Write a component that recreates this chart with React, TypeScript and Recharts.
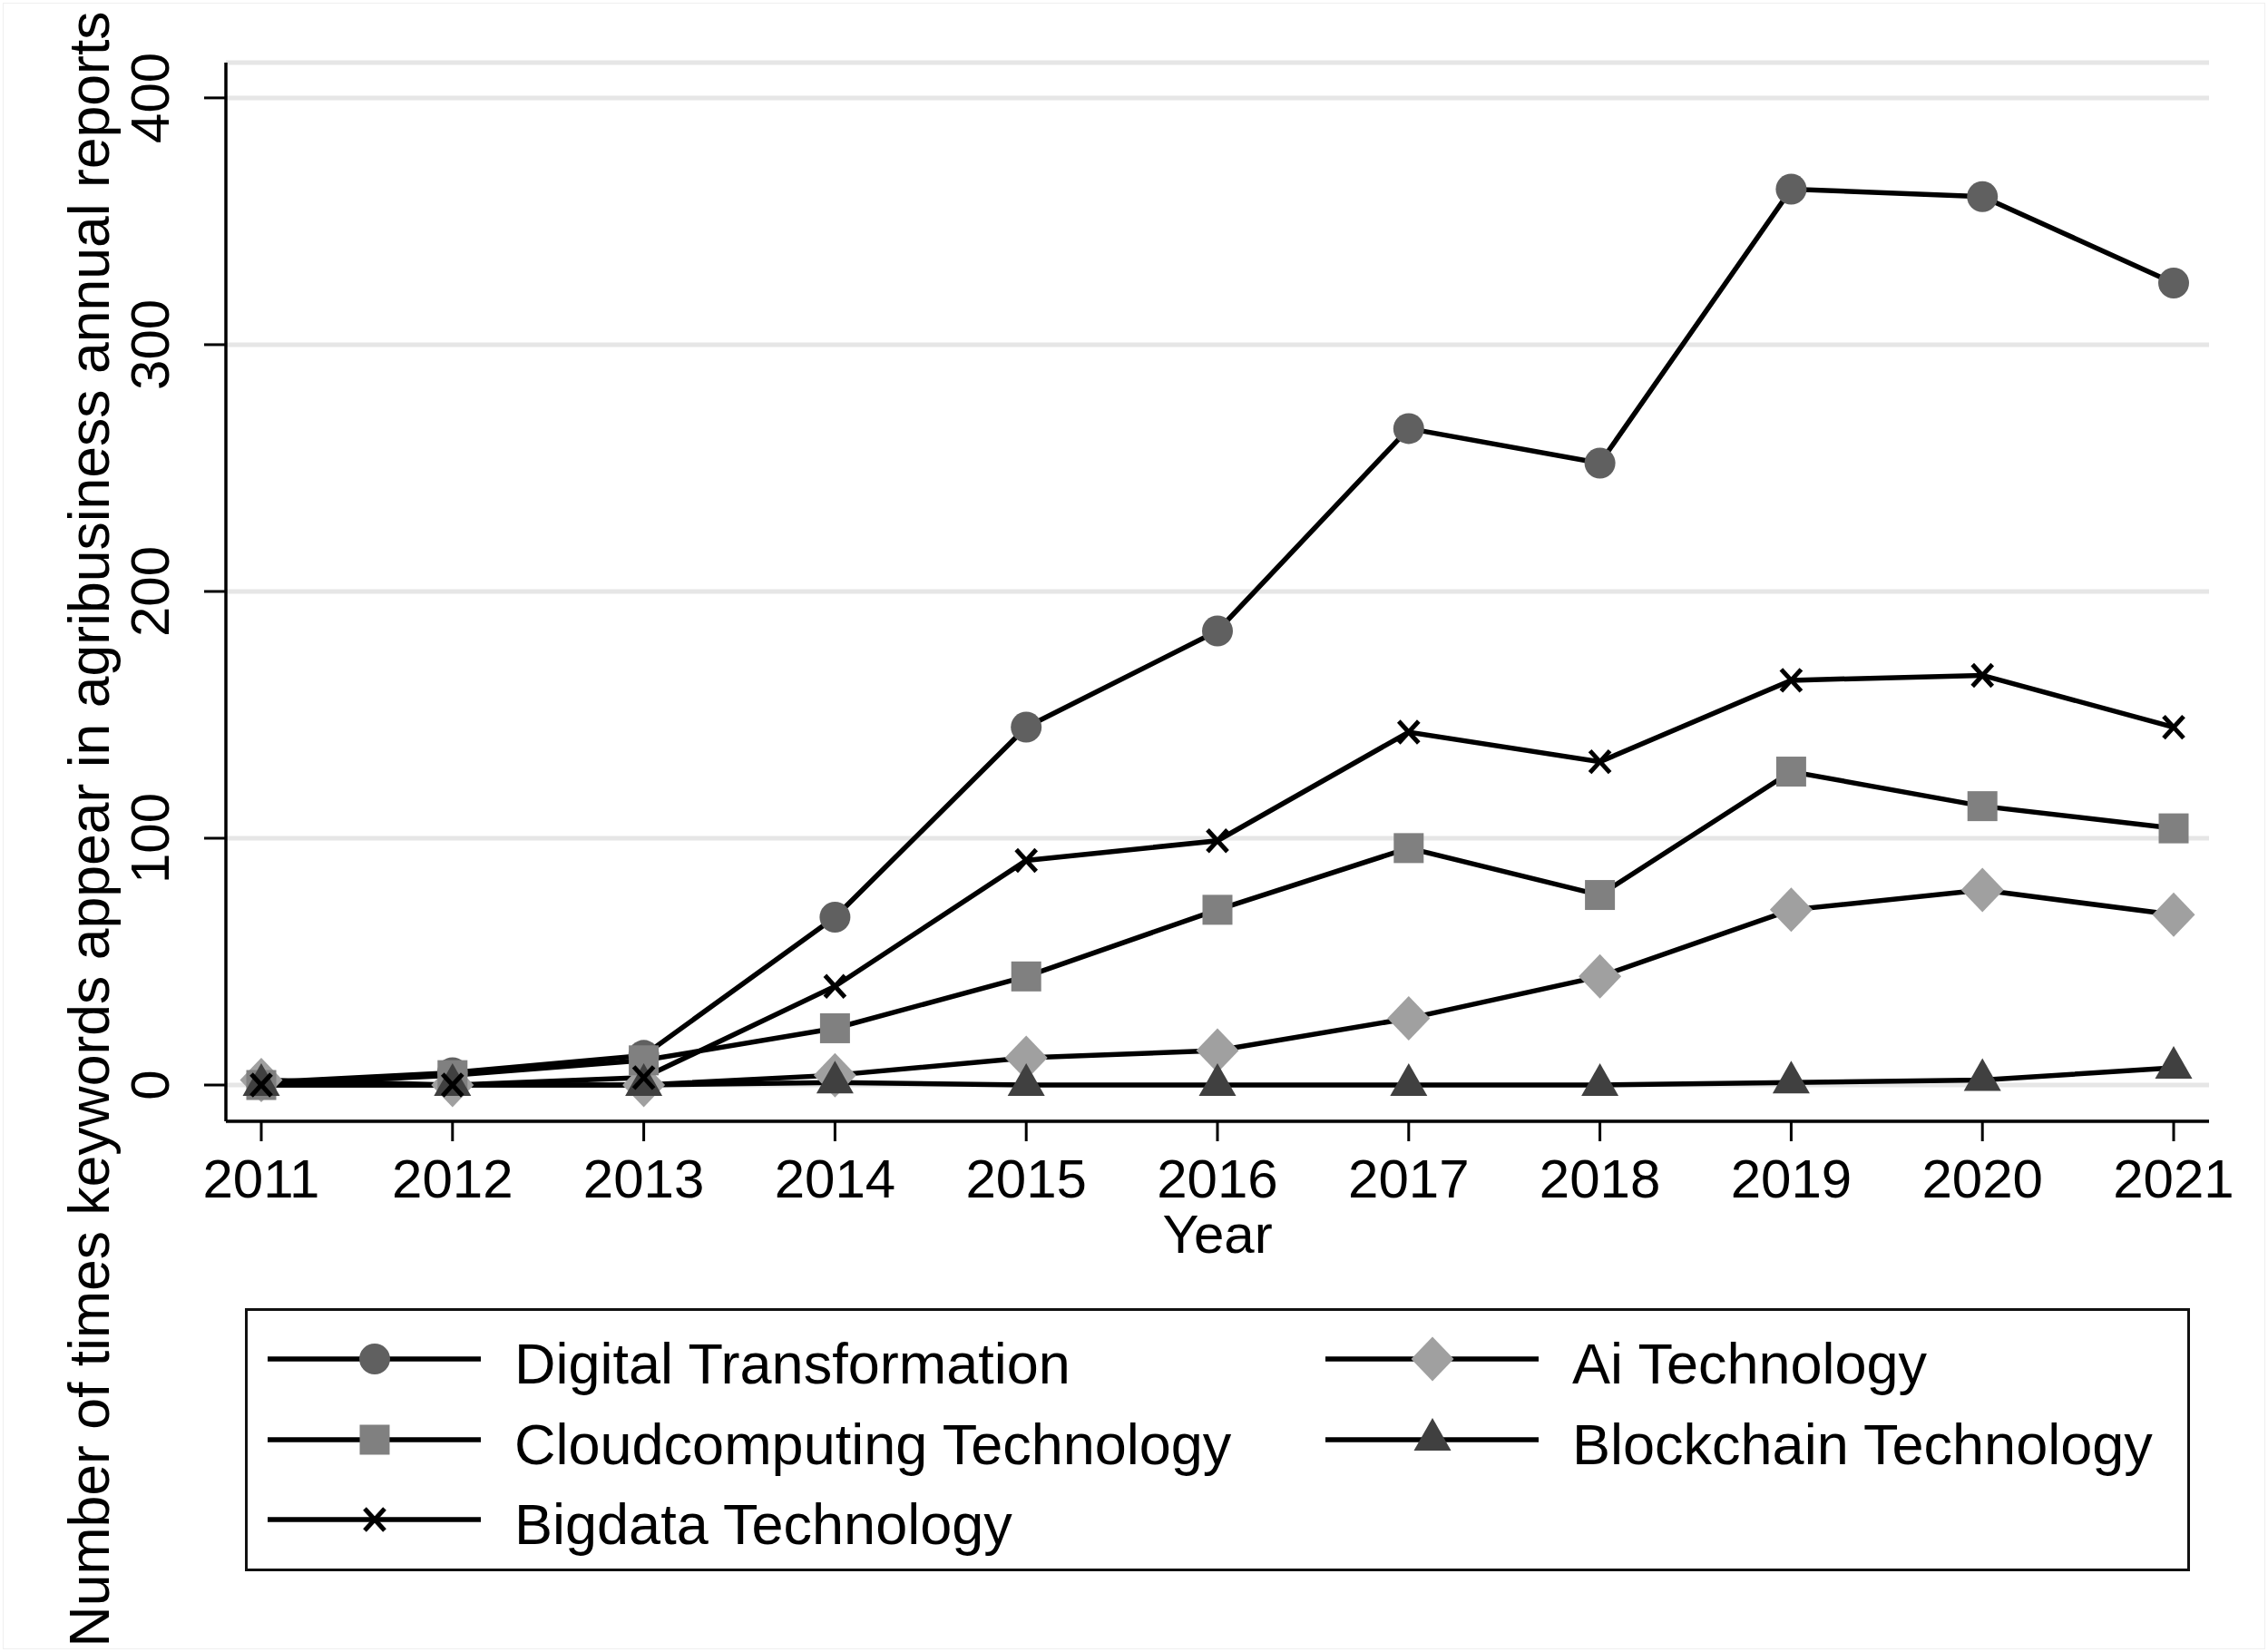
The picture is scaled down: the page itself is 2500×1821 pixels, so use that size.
import React from "react";
import {
  LineChart,
  Line,
  XAxis,
  YAxis,
  CartesianGrid,
  Legend,
  Label,
} from "recharts";

const YEARS = [2011, 2012, 2013, 2014, 2015, 2016, 2017, 2018, 2019, 2020, 2021];
const DIGITAL = [1, 5, 12, 68, 145, 184, 266, 252, 363, 360, 325];
const AI_TECH = [2, 0, 0, 4, 11, 14, 27, 44, 71, 79, 69];
const CLOUD = [0, 4, 10, 23, 44, 71, 96, 77, 127, 113, 104];
const BLOCKCHAIN = [0, 0, 0, 1, 0, 0, 0, 0, 1, 2, 7];
const BIGDATA = [0, 0, 3, 40, 91, 99, 143, 131, 164, 166, 145];
const Y_TICKS = [0, 100, 200, 300, 400];

const FONT = '"Liberation Sans", Arial, Helvetica, sans-serif';

type Shape = "circle" | "square" | "cross" | "diamond" | "triangle";

// drawing order follows the Stata plot (crosses end up on top)
const SERIES: { key: string; name: string; shape: Shape }[] = [
  { key: "digital", name: "Digital Transformation", shape: "circle" },
  { key: "ai", name: "Ai Technology", shape: "diamond" },
  { key: "cloud", name: "Cloudcomputing Technology", shape: "square" },
  { key: "blockchain", name: "Blockchain Technology", shape: "triangle" },
  { key: "bigdata", name: "Bigdata Technology", shape: "cross" },
];

const data = YEARS.map((year, i) => ({
  year,
  digital: DIGITAL[i],
  ai: AI_TECH[i],
  cloud: CLOUD[i],
  blockchain: BLOCKCHAIN[i],
  bigdata: BIGDATA[i],
}));

function Marker({ shape, cx, cy }: { shape: Shape; cx: number; cy: number }) {
  switch (shape) {
    case "circle":
      return <circle cx={cx} cy={cy} r={17} fill="#606060" />;
    case "square":
      return <rect x={cx - 16.5} y={cy - 16.5} width={33} height={33} fill="#808080" />;
    case "diamond":
      return (
        <polygon
          points={`${cx},${cy - 24.5} ${cx + 23.5},${cy} ${cx},${cy + 24.5} ${cx - 23.5},${cy}`}
          fill="#a0a0a0"
        />
      );
    case "triangle":
      return (
        <polygon
          points={`${cx},${cy - 24} ${cx + 20.5},${cy + 12} ${cx - 20.5},${cy + 12}`}
          fill="#404040"
        />
      );
    default:
      return (
        <g stroke="#000" strokeWidth={5}>
          <line x1={cx - 11} y1={cy - 12} x2={cx + 11} y2={cy + 12} />
          <line x1={cx - 11} y1={cy + 12} x2={cx + 11} y2={cy - 12} />
        </g>
      );
  }
}

const XTick = (props: any) => {
  const { x, y, payload } = props;
  return (
    <text x={x} y={y + 60} textAnchor="middle" fontSize={60} fontFamily={FONT} fill="#000">
      {payload.value}
    </text>
  );
};

const YTick = (props: any) => {
  const { y, payload } = props;
  const bx = 186;
  return (
    <text
      x={bx}
      y={y}
      transform={`rotate(-90, ${bx}, ${y})`}
      textAnchor="middle"
      fontSize={60}
      fontFamily={FONT}
      fill="#000"
    >
      {payload.value}
    </text>
  );
};

const LEGEND_SLOTS = [
  { key: "digital", col: 0, row: 0 },
  { key: "cloud", col: 0, row: 1 },
  { key: "bigdata", col: 0, row: 2 },
  { key: "ai", col: 1, row: 0 },
  { key: "blockchain", col: 1, row: 1 },
];

const LegendBox = () => {
  const rows = [56, 145, 233];
  const cols = [25, 1191];
  return (
    <svg width={2144} height={290} style={{ display: "block" }}>
      <rect x={1.5} y={1.5} width={2141} height={287} fill="#fff" stroke="#111" strokeWidth={3} />
      {LEGEND_SLOTS.map((slot) => {
        const s = SERIES.find((d) => d.key === slot.key)!;
        const x0 = cols[slot.col];
        const cy = rows[slot.row];
        return (
          <g key={slot.key}>
            <line x1={x0} y1={cy} x2={x0 + 235} y2={cy} stroke="#000" strokeWidth={5.5} />
            <Marker shape={s.shape} cx={x0 + 118} cy={cy} />
            <text x={x0 + 272} y={cy + 27} fontSize={63} fontFamily={FONT} fill="#000">
              {s.name}
            </text>
          </g>
        );
      })}
    </svg>
  );
};

export default function App() {
  return (
    <div style={{ position: "absolute", left: 0, top: 0, width: 2500, height: 1821, background: "#fff" }}>
      <div
        style={{
          position: "absolute",
          left: 3,
          top: 3,
          width: 2494,
          height: 1815,
          border: "1px solid #efefef",
          boxSizing: "border-box",
        }}
      />
      <LineChart
        width={2500}
        height={1821}
        data={data}
        margin={{ top: 69, right: 65, left: 0, bottom: 0 }}
      >
        <CartesianGrid vertical={false} stroke="#e6e6e6" strokeWidth={5} />
        <XAxis
          dataKey="year"
          type="number"
          domain={[2010.815, 2021.185]}
          allowDataOverflow
          ticks={YEARS}
          interval={0}
          height={585}
          tickSize={22}
          tick={XTick}
          axisLine={{ stroke: "#000", strokeWidth: 3.5 }}
          tickLine={{ stroke: "#000", strokeWidth: 3 }}
        >
          <Label
            content={() => (
              <text x={1342} y={1381} textAnchor="middle" fontSize={60} fontFamily={FONT} fill="#000">
                Year
              </text>
            )}
          />
        </XAxis>
        <YAxis
          type="number"
          domain={[-14.7, 414.3]}
          allowDataOverflow
          ticks={Y_TICKS}
          interval={0}
          width={249}
          tickSize={24}
          tick={YTick}
          axisLine={{ stroke: "#000", strokeWidth: 3.5 }}
          tickLine={{ stroke: "#000", strokeWidth: 3 }}
        >
          <Label
            content={() => (
              <text
                x={120}
                y={914}
                transform="rotate(-90, 120, 914)"
                textAnchor="middle"
                fontSize={62.5}
                fontFamily={FONT}
                fill="#000"
              >
                Number of times keywords appear in agribusiness annual reports
              </text>
            )}
          />
        </YAxis>
        {SERIES.map((s) => (
          <Line
            key={s.key}
            dataKey={s.key}
            name={s.name}
            type="linear"
            stroke="#000"
            strokeWidth={5.5}
            isAnimationActive={false}
            activeDot={false}
            dot={(p: any) => (
              <Marker key={`${s.key}-${p.index}`} shape={s.shape} cx={p.cx} cy={p.cy} />
            )}
          />
        ))}
        <Legend
          layout="horizontal"
          verticalAlign="middle"
          align="center"
          content={() => <LegendBox />}
          wrapperStyle={{ position: "absolute", left: 270, top: 1442, width: 2144, height: 290 }}
        />
      </LineChart>
    </div>
  );
}
